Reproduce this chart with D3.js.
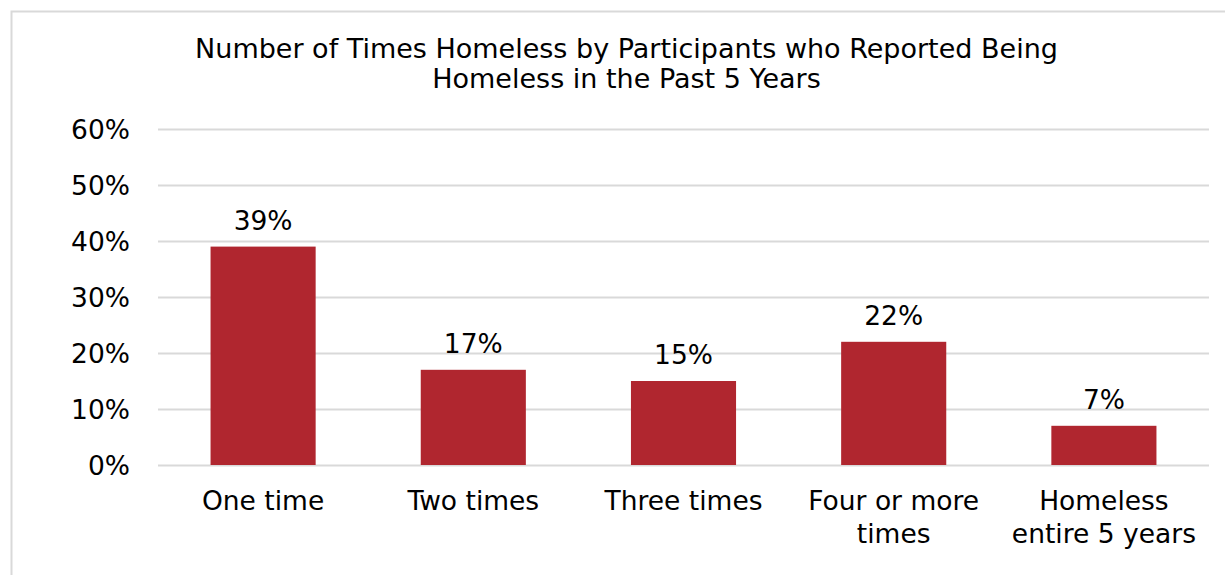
<!DOCTYPE html>
<html>
<head>
<meta charset="utf-8">
<script src="https://cdn.jsdelivr.net/npm/d3@7/dist/d3.min.js"></script>
<style>
  html, body { margin: 0; padding: 0; background: #fff; }
  svg { display: block; font-family: "DejaVu Sans", Verdana, sans-serif; }
</style>
</head>
<body>
<svg id="chart" width="1225" height="575"></svg>
<script>
// Chart data
const titleLines = ["Number of Times Homeless by Participants who Reported Being", "Homeless in the Past 5 Years"];
const categories = ["One time", "Two times", "Three times", "Four or more times", "Homeless entire 5 years"];
const categoryLines = [["One time"], ["Two times"], ["Three times"], ["Four or more", "times"], ["Homeless", "entire 5 years"]];
const values = [39, 17, 15, 22, 7];
const yTicks = [0, 10, 20, 30, 40, 50, 60];

const svg = d3.select("#chart");
const W = 1225, H = 575;
const plot = { left: 158, right: 1209, top: 129, bottom: 465 };
const barColor = "#B0262F";
const gridColor = "#D9D9D9";
const fontSize = 26.5;
const titleX = 626.5;

// Outer frame
svg.append("rect")
  .attr("x", 11.5).attr("y", 11.5)
  .attr("width", W + 20).attr("height", H + 20)
  .attr("fill", "none").attr("stroke", gridColor).attr("stroke-width", 2);

const x = d3.scaleBand().domain(categories).range([plot.left, plot.right]).paddingInner(0.5).paddingOuter(0.25);
const y = d3.scaleLinear().domain([0, 60]).range([plot.bottom, plot.top]);

// Title
svg.append("text")
  .attr("x", titleX)
  .attr("y", 58)
  .attr("text-anchor", "middle")
  .attr("font-size", 27)
  .attr("fill", "#000")
  .selectAll("tspan").data(titleLines).join("tspan")
  .attr("x", titleX)
  .attr("dy", (d, i) => i === 0 ? 0 : 30)
  .text(d => d);

// Gridlines and y labels
const yAxis = d3.axisLeft(y).tickValues(yTicks).tickFormat(d => d + "%")
  .tickSize(-(plot.right - plot.left)).tickPadding(28);
const gy = svg.append("g").attr("transform", `translate(${plot.left},0)`).call(yAxis);
gy.select(".domain").remove();
gy.selectAll(".tick line").attr("stroke", gridColor).attr("stroke-width", 2);
gy.selectAll(".tick text").attr("font-size", fontSize).attr("fill", "#000")
  .attr("font-family", "DejaVu Sans, Verdana, sans-serif").attr("dy", "0.35em");

// Bars
svg.append("g").selectAll("rect").data(values).join("rect")
  .attr("x", (d, i) => x(categories[i]))
  .attr("y", d => y(d))
  .attr("width", x.bandwidth())
  .attr("height", d => y(0) - y(d))
  .attr("fill", barColor);

// Value labels
svg.append("g").selectAll("text").data(values).join("text")
  .attr("x", (d, i) => x(categories[i]) + x.bandwidth() / 2)
  .attr("y", d => y(d) - 17)
  .attr("text-anchor", "middle")
  .attr("font-size", fontSize)
  .attr("fill", "#000")
  .text(d => d + "%");

// Category labels
const cl = svg.append("g").selectAll("text").data(categories).join("text")
  .attr("x", d => x(d) + x.bandwidth() / 2)
  .attr("y", 510)
  .attr("text-anchor", "middle")
  .attr("font-size", fontSize)
  .attr("fill", "#000");
cl.selectAll("tspan").data((d, i) => categoryLines[i].map(t => ({ t, c: d }))).join("tspan")
  .attr("x", d => x(d.c) + x.bandwidth() / 2)
  .attr("dy", (d, i) => i === 0 ? 0 : 33)
  .text(d => d.t);
</script>
</body>
</html>
